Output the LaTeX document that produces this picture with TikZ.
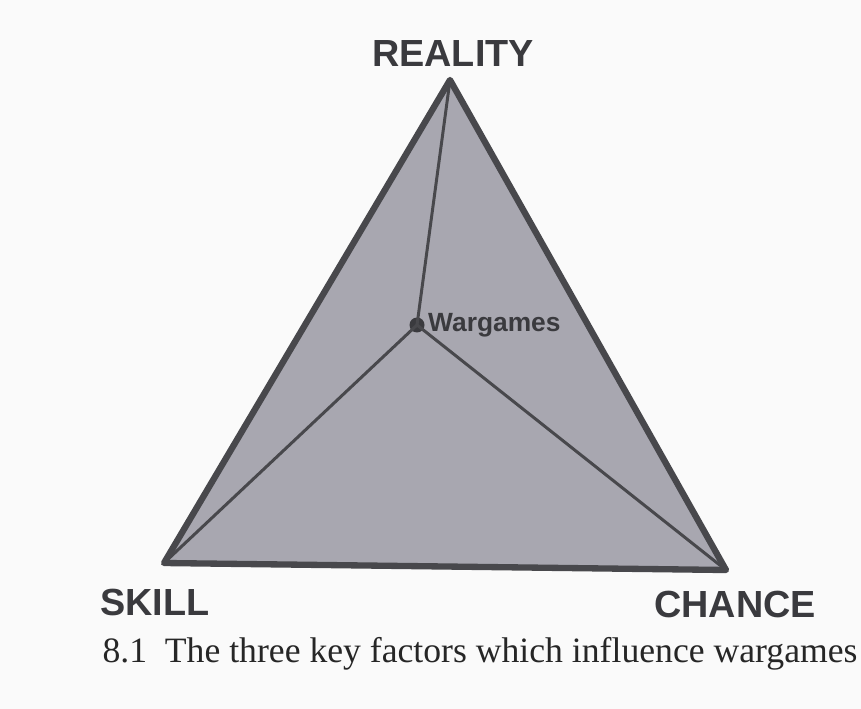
\documentclass[tikz,border=0pt]{standalone}
\usepackage{fontspec}
\setmainfont{Liberation Serif}
\setsansfont{Liberation Sans}
\usetikzlibrary{calc}

\definecolor{facegray}{RGB}{168,167,176}
\definecolor{edgegray}{RGB}{72,72,76}
\definecolor{inkgray}{RGB}{58,58,62}
\definecolor{pagegray}{RGB}{250,250,250}

\begin{document}
\begin{tikzpicture}
  [x=0.02cm, y=-0.02cm,
   dot/.style={shape = circle, fill=inkgray, inner sep = 0pt, minimum size = 0.3cm},
   corner/.style={font=\sffamily\bfseries\fontsize{21.5}{21.5}\selectfont, text=inkgray, inner sep = 0pt},
   spoke/.style={draw=edgegray, line width = 1.7pt, line cap=round}]

  \useasboundingbox[fill=pagegray] (0,0) rectangle (861,709);

    \coordinate (r) at (450,80);
    \coordinate (s) at (164,563);
    \coordinate (c) at (726,570);

    \fill[facegray] (r) -- (s) -- (c) -- cycle;

    \node (w) at (417,325) [dot] {};

    \draw[spoke] (r) -- (w.center);
    \draw[spoke] (s) -- (w.center);
    \draw[spoke] (c) -- (w.center);

    \draw[edgegray, line width = 3.6pt, line join=round] (r) -- (s) -- (c) -- cycle;

    \node (wlabel) at (w.east) [anchor=west, xshift=0.06cm, inner sep = 0pt,
      font=\sffamily\bfseries\fontsize{15}{15}\selectfont, text=inkgray] {Wargames};

    \node (reality) at (453,54) [corner] {REALITY};
    \node (skill) at (155,602) [corner] {SKILL};
    \node (chance) at (735,604) [corner] {CHANCE};

    \node (caption) at (480,654) [inner sep = 0pt, text=black!85,
      font=\fontsize{20.3}{20.3}\selectfont] {8.1\enspace The three key factors which influence wargames};

  \end{tikzpicture}
\end{document}
